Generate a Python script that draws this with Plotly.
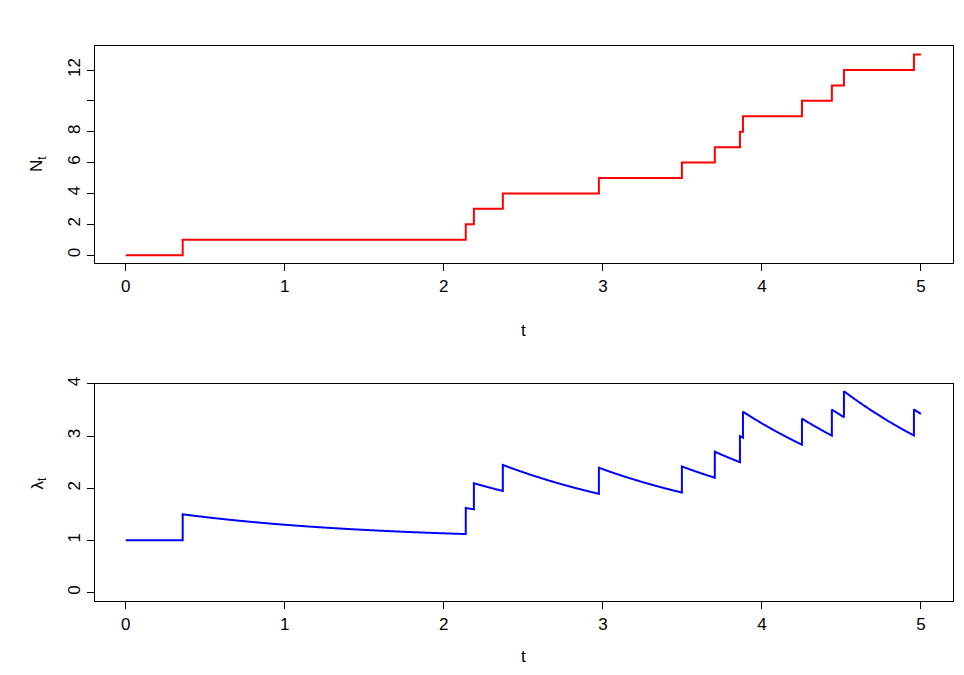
import numpy as np
import plotly.graph_objects as go

# event times
events = [0.358, 2.138, 2.189, 2.371, 2.975, 3.497, 3.704, 3.862, 3.881, 4.252, 4.440, 4.516, 4.956]
t_end = 5.0
mu, alpha, beta = 1.0, 0.5, 0.8

# N_t step path
n_x = [0.0] + events + [t_end]
n_y = list(range(len(events) + 1)) + [len(events)]

# lambda_t path from the exponential Hawkes intensity
grid = np.sort(np.concatenate([np.linspace(0, t_end, 2001), events, events]))
lam_x, lam_y = [], []
for i, t in enumerate(grid):
    past = [s for s in events if s < t or (s == t and i > 0 and grid[i - 1] == t)]
    lam_x.append(t)
    lam_y.append(mu + alpha * sum(np.exp(-beta * (t - s)) for s in past))

fig = go.Figure()
fig.add_trace(go.Scatter(x=n_x, y=n_y, mode="lines", line=dict(color="red", width=2, shape="hv"),
                         xaxis="x", yaxis="y"))
fig.add_trace(go.Scatter(x=lam_x, y=lam_y, mode="lines", line=dict(color="blue", width=2, simplify=False),
                         xaxis="x2", yaxis="y2"))

ax = dict(showgrid=False, zeroline=False, showline=True, mirror=True, linecolor="black",
          ticks="outside", ticklen=7, tickcolor="black", tickfont=dict(size=17, color="black"))
fig.update_layout(
    width=964, height=675, showlegend=False, plot_bgcolor="white", paper_bgcolor="white",
    margin=dict(l=0, r=0, t=0, b=0, autoexpand=False),
    font=dict(family="Liberation Sans, Arial, sans-serif", color="black"),
    xaxis=dict(ax, domain=[0.090, 0.980], anchor="y", range=[-0.195, 5.2], tickvals=[0, 1, 2, 3, 4, 5]),
    yaxis=dict(ax, domain=[0.622, 0.944], anchor="x", range=[-0.52, 13.57],
               tickvals=[0, 2, 4, 6, 8, 10, 12], ticktext=["0", "2", "4", "6", "8", "", "12"], tickangle=-90),
    xaxis2=dict(ax, domain=[0.090, 0.980], anchor="y2", range=[-0.195, 5.2], tickvals=[0, 1, 2, 3, 4, 5]),
    yaxis2=dict(ax, domain=[0.121, 0.443], anchor="x2", range=[-0.17, 4.0],
                tickvals=[0, 1, 2, 3, 4], tickangle=-90),
)
for txt, x, y, ang in [("t", 515, 322, 0), ("t", 515, 660, 0),
                       ("N<sub>t</sub>", 17, 146, -90), ("λ<sub>t</sub>", 17, 484, -90)]:
    fig.add_annotation(text=txt, x=x / 964, y=1 - y / 675, xref="paper", yref="paper",
                       showarrow=False, font=dict(size=17), textangle=ang)

fig.write_html("out.html")
